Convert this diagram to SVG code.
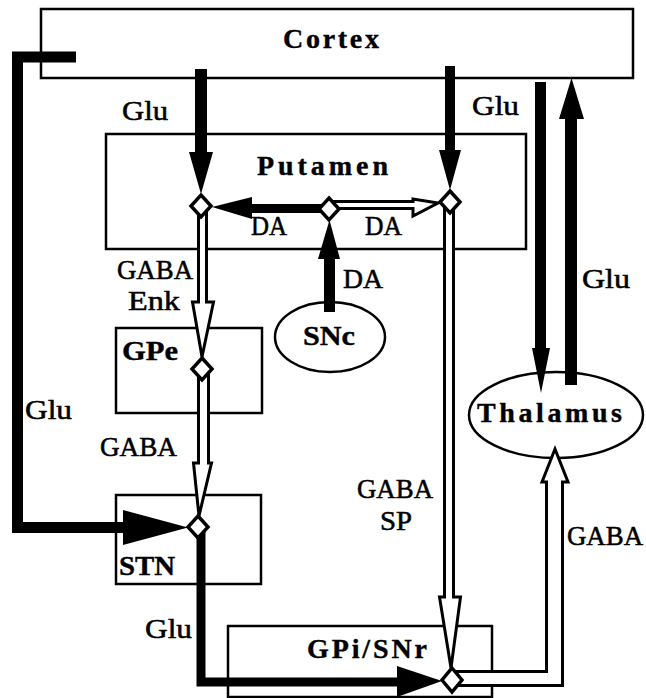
<svg xmlns="http://www.w3.org/2000/svg" width="646" height="698" viewBox="0 0 646 698">
<style>
.box{fill:#fff;stroke:#000;stroke-width:2.5}
.nl{font-family:"Liberation Serif","Times New Roman",serif;font-weight:bold;font-size:28px;fill:#000;stroke:#000;stroke-width:0.4}
.lb{font-family:"Liberation Serif","Times New Roman",serif;font-size:28px;fill:#000;stroke:#000;stroke-width:0.55}
.blk{fill:#000;stroke:none}
.bline{fill:none;stroke:#000;stroke-linejoin:miter}
.hol{fill:#fff;stroke:#000;stroke-width:3;stroke-linejoin:miter}
.dia{fill:#fff;stroke:#000;stroke-width:3.5;stroke-linejoin:miter}
</style>
<rect width="646" height="698" fill="#fff"/>
<g id="cortex">
<rect class="box" x="41" y="9" width="592" height="69"/>
<text class="nl" x="283" y="48" font-size="31" textLength="96" lengthAdjust="spacing">Cortex</text>
</g>
<g id="putamen">
<rect class="box" x="106" y="134" width="420" height="115"/>
<text class="nl" x="257" y="175" textLength="131" lengthAdjust="spacing">Putamen</text>
</g>
<g id="gpe">
<rect class="box" x="116" y="328" width="146" height="85"/>
<text class="nl" x="122" y="360" font-size="27" textLength="56" lengthAdjust="spacingAndGlyphs">GPe</text>
</g>
<g id="snc">
<ellipse class="box" cx="330" cy="337" rx="55" ry="35"/>
<text class="nl" x="303" y="345" font-size="27" textLength="52" lengthAdjust="spacingAndGlyphs">SNc</text>
</g>
<g id="thalamus">
<ellipse class="box" cx="556" cy="415" rx="87" ry="43"/>
<text class="nl" x="477" y="422" font-size="29" textLength="145" lengthAdjust="spacing">Thalamus</text>
</g>
<g id="stn">
<rect class="box" x="116" y="495" width="145" height="89"/>
<text class="nl" x="119" y="575" font-size="30" textLength="56" lengthAdjust="spacingAndGlyphs">STN</text>
</g>
<g id="gpi-snr">
<rect class="box" x="228" y="626" width="264" height="71"/>
<text class="nl" x="307" y="658" textLength="120" lengthAdjust="spacing">GPi/SNr</text>
</g>
<g id="connectors">
<path class="blk" d="M195,69 H207 V152 H213 L201,194 L189,152 H195 Z"/>
<path class="blk" d="M445,66 H455 V150 H461 L450,190 L439,150 H445 Z"/>
<path class="blk" d="M329,204 V213 H252 V219 L212,207 L252,197 V204 Z"/>
<path class="hol" d="M329,201.5 H413 V199 L438,203 L413,216 V208.5 H329 Z"/>
<path class="blk" d="M324,312 H335 V259 H340 L329.5,220 L318,259 H324 Z"/>
<path class="hol" d="M198.5,206 V302 H192.5 L202,357 L213.5,302 H206.5 V206 Z"/>
<path class="hol" d="M198.5,369 V463 H193.5 L199,516 L211.5,463 H208.5 V369 Z"/>
<path class="hol" d="M444.5,202 V597 H439.5 L451,668 L460.5,597 H453.5 V202 Z"/>
<path class="hol" d="M452,671.5 H546.5 V482 H542 L555,449 L568,482 H562.5 V685.5 H452 Z"/>
<polyline class="bline" stroke-width="11" points="76,57 17.5,57 17.5,527.5 124,527.5"/>
<path class="blk" d="M123,510 L188,527.5 L123,545 Z"/>
<polyline class="bline" stroke-width="9" points="201,527 201,682 398,682"/>
<path class="blk" d="M397,666 L442,681 L397,697 Z"/>
<path class="blk" d="M535,82 H546 V348 H550 L541,393 L532,348 H535 Z"/>
<path class="blk" d="M565,385 H577 V119 H584 L571.5,78 L559,119 H565 Z"/>
<polygon class="dia" points="201,195 211,206 201,217 191,206"/>
<polygon class="dia" points="329,198 339,209 329,220 319,209"/>
<polygon class="dia" points="450,191 460,202 450,213 440,202"/>
<polygon class="dia" points="202,358 212,369 202,380 192,369"/>
<polygon class="dia" points="198,516 208,527 198,538 188,527"/>
<polygon class="dia" points="452,668 462,680 452,692 442,680"/>
<text class="lb" x="122" y="120" textLength="46" lengthAdjust="spacingAndGlyphs">Glu</text>
<text class="lb" x="472" y="115" textLength="47" lengthAdjust="spacingAndGlyphs">Glu</text>
<text class="lb" x="251" y="235" textLength="36" lengthAdjust="spacingAndGlyphs">DA</text>
<text class="lb" x="365" y="235" textLength="37" lengthAdjust="spacingAndGlyphs">DA</text>
<text class="lb" x="343" y="288" textLength="40" lengthAdjust="spacingAndGlyphs">DA</text>
<text class="lb" x="117" y="279" textLength="76" lengthAdjust="spacingAndGlyphs">GABA</text>
<text class="lb" x="128" y="310" textLength="52" lengthAdjust="spacingAndGlyphs">Enk</text>
<text class="lb" x="25" y="419" textLength="47" lengthAdjust="spacingAndGlyphs">Glu</text>
<text class="lb" x="100" y="456" textLength="77" lengthAdjust="spacingAndGlyphs">GABA</text>
<text class="lb" x="582" y="288" textLength="48" lengthAdjust="spacingAndGlyphs">Glu</text>
<text class="lb" x="357" y="498" textLength="76" lengthAdjust="spacingAndGlyphs">GABA</text>
<text class="lb" x="380" y="530" textLength="32" lengthAdjust="spacingAndGlyphs">SP</text>
<text class="lb" x="567" y="545" textLength="76" lengthAdjust="spacingAndGlyphs">GABA</text>
<text class="lb" x="145" y="638" textLength="47" lengthAdjust="spacingAndGlyphs">Glu</text>
</g>
</svg>
